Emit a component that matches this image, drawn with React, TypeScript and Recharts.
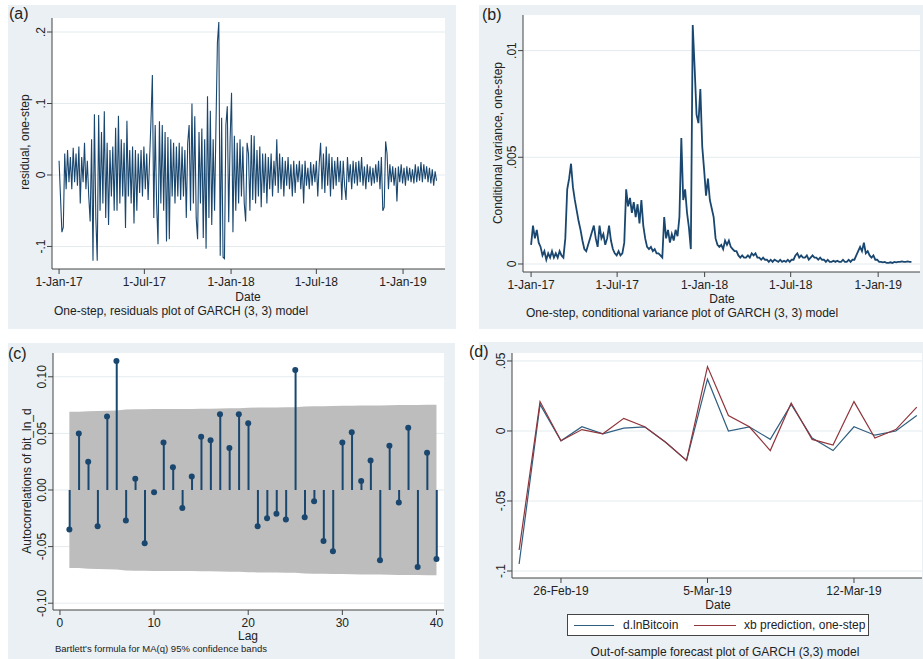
import React from 'react';
import { LineChart, Line, XAxis, YAxis, CartesianGrid, ComposedChart, Area, Bar } from 'recharts';

const FONT = '"Liberation Sans", Arial, sans-serif';
const NAVY = '#1a476f';
const MAROON = '#90353b';
const PANEL_BG = '#eaf0f3';
const GRID = '#e4ebee';
const AXIS = '#444';
const TEXT = '#222';

// x axis of panels (a) and (b): days since 1-Jan-17
const dateTicks = [0, 181, 365, 546, 730];
const dateTickLabels = ['1-Jan-17', '1-Jul-17', '1-Jan-18', '1-Jul-18', '1-Jan-19'];

// (a) one-step residuals, one reading every 3 days
const residualStep = 3;
const residuals = [
  0.02, -0.03, -0.08, -0.073, 0.03, -0.02, 0.035, -0.01, 0.025, -0.02,
  0.038, -0.01, 0.03, -0.015, 0.04, -0.04, 0.025, -0.01, 0.045, -0.02,
  0.02, -0.03, -0.065, 0.05, -0.12, 0.085, -0.06, -0.12, 0.084, -0.05,
  0.06, -0.04, 0.089, -0.06, 0.045, -0.07, 0.035, -0.03, 0.04, -0.05,
  0.066, -0.05, 0.083, -0.04, 0.05, -0.03, 0.045, -0.074, 0.076, -0.03,
  0.035, -0.04, 0.04, -0.068, 0.035, -0.05, 0.03, -0.025, 0.035, -0.03,
  0.04, -0.02, 0.03, -0.035, 0.02, 0.075, 0.14, -0.06, 0.07, -0.04,
  -0.097, 0.075, -0.04, 0.07, -0.05, 0.06, -0.093, 0.053, -0.09, 0.05,
  -0.03, 0.045, -0.04, 0.04, -0.03, 0.045, -0.035, 0.04, -0.03, 0.035,
  -0.06, 0.045, 0.07, -0.05, 0.1, -0.04, 0.082, -0.06, -0.09, 0.06,
  -0.04, 0.065, -0.088, 0.05, -0.103, 0.11, -0.06, 0.09, -0.07, 0.05,
  -0.05, 0.07, 0.185, 0.214, -0.113, 0.08, -0.115, -0.117, 0.07, 0.096,
  -0.066, 0.05, 0.115, -0.08, 0.055, -0.05, 0.045, -0.04, 0.05, -0.03,
  0.04, -0.04, -0.065, 0.045, 0.03, -0.05, 0.056, -0.035, 0.055, -0.04,
  0.035, -0.03, 0.04, -0.045, 0.03, -0.025, 0.03, -0.04, 0.025, -0.02,
  0.03, -0.03, 0.02, -0.015, 0.05, -0.025, 0.03, -0.02, 0.025, -0.03,
  0.02, -0.015, 0.025, -0.02, 0.015, -0.03, 0.02, -0.025, 0.015, -0.01,
  0.02, -0.02, 0.015, -0.04, 0.02, -0.015, 0.01, -0.02, 0.018, -0.015,
  0.015, -0.01, 0.02, -0.03, 0.015, 0.045, -0.02, 0.03, -0.025, 0.04,
  -0.015, 0.03, -0.03, 0.025, -0.02, 0.02, -0.015, 0.025, -0.01, 0.02,
  -0.035, 0.02, -0.015, -0.035, 0.025, -0.01, 0.015, -0.02, 0.02, -0.012,
  0.018, -0.015, 0.02, -0.01, 0.025, -0.015, 0.012, -0.02, 0.015, -0.01,
  0.012, -0.015, 0.01, -0.012, 0.015, -0.01, 0.02, -0.02, 0.025, -0.05,
  -0.045, 0.047, 0.03, -0.02, 0.015, -0.01, 0.012, -0.015, 0.01, -0.037,
  0.012, -0.01, 0.015, -0.012, 0.01, -0.015, 0.012, -0.008, 0.01, -0.01,
  0.008, -0.012, 0.015, -0.01, 0.012, -0.008, 0.018, -0.01, 0.015, -0.006,
  0.012, -0.01, 0.01, -0.012, 0.008, -0.015, 0.005, -0.008,
];
const residualTicks = [-0.1, 0, 0.1, 0.2];
const residualTickLabels = ['-.1', '0', '.1', '.2'];

// (b) one-step conditional variance, one reading every 4 days
const varianceStep = 4;
const variances = [
  0.0009, 0.0018, 0.0012, 0.0016, 0.001, 0.0008, 0.0004, 0.0006, 0.0002, 0.0005,
  0.0003, 0.0006, 0.0003, 0.0005, 0.0003, 0.0006, 0.0004, 0.0003, 0.0012, 0.0035,
  0.004, 0.0047, 0.0036, 0.003, 0.0025, 0.002, 0.0016, 0.0011, 0.0007, 0.0006,
  0.0009, 0.0012, 0.0015, 0.0018, 0.0012, 0.0008, 0.0018, 0.0012, 0.0014, 0.0009,
  0.0012, 0.0018, 0.0011, 0.0007, 0.0005, 0.0004, 0.0006, 0.0004, 0.0005, 0.001,
  0.0035, 0.0027, 0.0031, 0.0024, 0.0029, 0.0022, 0.0028, 0.0019, 0.003, 0.0018,
  0.0012, 0.0008, 0.0007, 0.0008, 0.0006, 0.0007, 0.0005, 0.0005, 0.0004, 0.0003,
  0.0022, 0.0012, 0.0016, 0.001, 0.0014, 0.0011, 0.0016, 0.0013, 0.0022, 0.0059,
  0.003, 0.0035, 0.0024, 0.0017, 0.0007, 0.0112, 0.0092, 0.007, 0.0066, 0.0082,
  0.0055, 0.0044, 0.0032, 0.004, 0.003, 0.0026, 0.0022, 0.0012, 0.0009, 0.0008,
  0.0009, 0.0007, 0.0011, 0.0009, 0.0011, 0.0008, 0.0007, 0.0006, 0.0006, 0.0004,
  0.0003, 0.0004, 0.0003, 0.0003, 0.0004, 0.0003, 0.0005, 0.0004, 0.0005, 0.0003,
  0.0003, 0.0002, 0.0003, 0.0002, 0.0002, 0.0001, 0.0002, 0.0001, 0.0002, 0.00015,
  0.0001, 0.0002, 0.0001, 0.00015, 0.0001, 0.0002, 0.0001, 0.0002, 0.0002, 0.0004,
  0.0005, 0.0003, 0.0004, 0.0003, 0.0003, 0.0004, 0.0002, 0.0003, 0.0004, 0.0003,
  0.0003, 0.0002, 0.0003, 0.0002, 0.0002, 0.0001, 0.0002, 0.0001, 0.0001, 0.00015,
  0.0001, 0.00015, 0.0001, 0.0001, 0.0002, 0.0001, 0.0001, 0.0002, 0.0001, 0.0002,
  0.0002, 0.0004, 0.0006, 0.0008, 0.0006, 0.001, 0.0005, 0.0006, 0.0004, 0.0003,
  0.0004, 0.0002, 0.0002, 0.0001, 0.0001, 0.00008, 0.0001, 0.00005, 0.00005, 0.00008,
  0.00005, 0.0001, 0.00008, 0.0001, 0.0001, 0.00012, 0.0001, 0.0001, 0.00012, 0.0001,
  0.0001,
];
const varianceTicks = [0, 0.005, 0.01];
const varianceTickLabels = ['0', '.005', '.01'];

// (c) autocorrelations with Bartlett 95% band
const acfLags = [
  1, 2, 3, 4, 5, 6, 7, 8, 9, 10, 11, 12, 13, 14, 15, 16, 17, 18, 19, 20,
  21, 22, 23, 24, 25, 26, 27, 28, 29, 30, 31, 32, 33, 34, 35, 36, 37, 38, 39, 40,
];
const acfValues = [
  -0.035, 0.05, 0.025, -0.032, 0.065, 0.114, -0.027, 0.01, -0.047, -0.002,
  0.042, 0.02, -0.016, 0.012, 0.047, 0.044, 0.067, 0.037, 0.067, 0.059,
  -0.032, -0.025, -0.021, -0.026, 0.106, -0.024, -0.01, -0.045, -0.054, 0.042,
  0.051, 0.008, 0.026, -0.062, 0.039, -0.011, 0.055, -0.068, 0.033, -0.061,
];
const acfBand = [
  0.069, 0.069, 0.0695, 0.0697, 0.07, 0.0703, 0.0712, 0.0713, 0.0713, 0.0715,
  0.0715, 0.0716, 0.0716, 0.0716, 0.0717, 0.0718, 0.0719, 0.0722, 0.0723, 0.0726,
  0.0728, 0.0729, 0.0729, 0.073, 0.073, 0.0738, 0.0739, 0.0739, 0.0741, 0.0743,
  0.0744, 0.0746, 0.0746, 0.0746, 0.0749, 0.075, 0.075, 0.0751, 0.0753, 0.0753,
];
const lagTicks = [0, 10, 20, 30, 40];
const acfTicks = [-0.1, -0.05, 0, 0.05, 0.1];
const acfTickLabels = ['-0.10', '-0.05', '0.00', '0.05', '0.10'];

// (d) out-of-sample forecast
const forecastDates = [
  '24-Feb-19', '25-Feb-19', '26-Feb-19', '27-Feb-19', '28-Feb-19', '1-Mar-19', '2-Mar-19',
  '3-Mar-19', '4-Mar-19', '5-Mar-19', '6-Mar-19', '7-Mar-19', '8-Mar-19', '9-Mar-19',
  '10-Mar-19', '11-Mar-19', '12-Mar-19', '13-Mar-19', '14-Mar-19', '15-Mar-19',
];
const actualValues = [
  -0.095, 0.019, -0.007, 0.003, -0.002, 0.002, 0.003, -0.008, -0.021, 0.037,
  0.0, 0.003, -0.006, 0.019, -0.005, -0.014, 0.003, -0.003, 0.0, 0.011,
];
const predictedValues = [
  -0.085, 0.021, -0.007, 0.001, -0.002, 0.009, 0.003, -0.008, -0.021, 0.046,
  0.011, 0.003, -0.014, 0.02, -0.006, -0.01, 0.021, -0.005, 0.001, 0.017,
];
const forecastTickDates = ['26-Feb-19', '5-Mar-19', '12-Mar-19'];
const forecastYTicks = [-0.1, -0.05, 0, 0.05];
const forecastYTickLabels = ['-.1', '-.05', '0', '.05'];

const residualData = residuals.map((v, i) => ({ day: i * residualStep, v }));
const varianceData = variances.map((v, i) => ({ day: i * varianceStep, v }));
const acfData = acfLags.map((lag, i) => ({ lag, acf: acfValues[i], band: [-acfBand[i], acfBand[i]] }));
const forecastData = forecastDates.map((d, i) => ({ idx: i, actual: actualValues[i], pred: predictedValues[i] }));
const forecastTickIdx = forecastTickDates.map((d) => forecastDates.indexOf(d));

const VTick = ({ x, y, payload, ticks, labels }: any) => (
  <text x={x} y={y} transform={`rotate(-90 ${x} ${y})`} textAnchor="middle" fontSize={12} fontFamily={FONT} fill={TEXT}>
    {labels[ticks.indexOf(payload.value)]}
  </text>
);

const xTickStyle = { fontSize: 12, fill: TEXT, fontFamily: FONT };

const Txt = ({ x, y, size = 12, rotate = 0, left = false, children }: any) => (
  <div
    style={{
      position: 'absolute',
      left: x,
      top: y,
      fontSize: size,
      fontFamily: FONT,
      color: TEXT,
      whiteSpace: 'nowrap',
      lineHeight: 1,
      transform: `translate(${left ? '0' : '-50%'}, -50%) rotate(${rotate}deg)`,
    }}
  >
    {children}
  </div>
);

const Panel = ({ x, y, w, h, children }: any) => (
  <div style={{ position: 'absolute', left: x, top: y, width: w, height: h, background: PANEL_BG }}>{children}</div>
);

const yAxisCommon = {
  axisLine: { stroke: AXIS },
  tickLine: { stroke: AXIS },
  tickSize: 5,
  tickMargin: 2,
  allowDataOverflow: true,
};

const xAxisCommon = {
  type: 'number' as const,
  axisLine: { stroke: AXIS },
  tickLine: { stroke: AXIS },
  tickSize: 5,
  tickMargin: 3,
  allowDataOverflow: true,
  height: 30,
  tick: xTickStyle,
};

export default function App() {
  return (
    <div style={{ position: 'absolute', left: 0, top: 0, width: 923, height: 659, background: '#fff', overflow: 'hidden' }}>
      {/* (a) residuals */}
      <Panel x={8} y={5} w={448} h={324}>
        <LineChart width={448} height={324} data={residualData} margin={{ top: 13, right: 11, left: 0, bottom: 30 }}>
          <CartesianGrid fill="#fff" stroke={GRID} vertical={false} horizontalValues={residualTicks} />
          <XAxis
            {...xAxisCommon}
            dataKey="day"
            domain={[-15, 819]}
            ticks={dateTicks}
            tickFormatter={(v: number) => dateTickLabels[dateTicks.indexOf(v)]}
          />
          <YAxis
            {...yAxisCommon}
            width={44}
            domain={[-0.1315, 0.2196]}
            ticks={residualTicks}
            tick={(p: any) => <VTick {...p} ticks={residualTicks} labels={residualTickLabels} />}
          />
          <Line type="linear" dataKey="v" stroke={NAVY} strokeWidth={1.1} dot={false} isAnimationActive={false} />
        </LineChart>
      </Panel>
      <Txt x={9} y={14} size={16} left>(a)</Txt>
      <Txt x={25} y={142} rotate={-90}>residual, one-step</Txt>
      <Txt x={248} y={297}>Date</Txt>
      <Txt x={54} y={311} left>One-step, residuals plot of GARCH (3, 3) model</Txt>

      {/* (b) conditional variance */}
      <Panel x={479} y={5} w={444} h={324}>
        <LineChart width={444} height={324} data={varianceData} margin={{ top: 10, right: 3, left: 0, bottom: 27 }}>
          <CartesianGrid fill="#fff" stroke={GRID} vertical={false} horizontalValues={varianceTicks} />
          <XAxis
            {...xAxisCommon}
            dataKey="day"
            domain={[-17, 818]}
            ticks={dateTicks}
            tickFormatter={(v: number) => dateTickLabels[dateTicks.indexOf(v)]}
          />
          <YAxis
            {...yAxisCommon}
            width={44}
            domain={[-0.000375, 0.011668]}
            ticks={varianceTicks}
            tick={(p: any) => <VTick {...p} ticks={varianceTicks} labels={varianceTickLabels} />}
          />
          <Line type="linear" dataKey="v" stroke={NAVY} strokeWidth={1.8} dot={false} isAnimationActive={false} />
        </LineChart>
      </Panel>
      <Txt x={482} y={15} size={16} left>(b)</Txt>
      <Txt x={498} y={143} rotate={-90}>Conditional variance, one-step</Txt>
      <Txt x={722} y={299}>Date</Txt>
      <Txt x={526} y={313} left>One-step, conditional variance plot of GARCH (3, 3) model</Txt>

      {/* (c) autocorrelations */}
      <Panel x={8} y={343} w={447} h={316}>
        <ComposedChart width={447} height={316} data={acfData} margin={{ top: 10, right: 11, left: 0, bottom: 19 }}>
          <CartesianGrid fill="#fff" stroke={GRID} vertical={false} horizontalValues={acfTicks} />
          <XAxis {...xAxisCommon} dataKey="lag" domain={[-0.74, 40.8]} ticks={lagTicks} />
          <YAxis
            {...yAxisCommon}
            width={45}
            domain={[-0.106, 0.121]}
            ticks={acfTicks}
            tick={(p: any) => <VTick {...p} ticks={acfTicks} labels={acfTickLabels} />}
          />
          <Area type="linear" dataKey="band" fill="#bdbdbd" fillOpacity={1} stroke="none" isAnimationActive={false} />
          <Bar dataKey="acf" fill={NAVY} barSize={2} isAnimationActive={false} />
          <Line
            dataKey="acf"
            stroke="none"
            dot={{ r: 3, fill: NAVY, stroke: NAVY, strokeWidth: 0 }}
            isAnimationActive={false}
          />
        </ComposedChart>
      </Panel>
      <Txt x={8} y={354} size={16} left>(c)</Txt>
      <Txt x={27} y={481} rotate={-90}>Autocorrelations of bit_ln_d</Txt>
      <Txt x={248} y={636}>Lag</Txt>
      <Txt x={55} y={649} size={9.5} left>Bartlett's formula for MA(q) 95% confidence bands</Txt>

      {/* (d) forecast */}
      <Panel x={479} y={342} w={444} h={317}>
        <LineChart width={444} height={317} data={forecastData} margin={{ top: 11, right: 1, left: 0, bottom: 51 }}>
          <CartesianGrid fill="#fff" stroke={GRID} vertical={false} horizontalValues={forecastYTicks} />
          <XAxis
            {...xAxisCommon}
            dataKey="idx"
            domain={[-0.34, 19.25]}
            ticks={forecastTickIdx}
            tickFormatter={(v: number) => forecastDates[v]}
          />
          <YAxis
            {...yAxisCommon}
            width={33}
            domain={[-0.105, 0.0557]}
            ticks={forecastYTicks}
            tick={(p: any) => <VTick {...p} ticks={forecastYTicks} labels={forecastYTickLabels} />}
          />
          <Line type="linear" dataKey="actual" stroke="#2f5f80" strokeWidth={1.2} dot={false} isAnimationActive={false} />
          <Line type="linear" dataKey="pred" stroke={MAROON} strokeWidth={1.2} dot={false} isAnimationActive={false} />
        </LineChart>
      </Panel>
      <Txt x={469} y={352} size={16} left>(d)</Txt>
      <Txt x={718} y={605}>Date</Txt>
      <div
        style={{
          position: 'absolute',
          left: 567,
          top: 614,
          width: 300,
          height: 20,
          background: '#fff',
          border: `1px solid ${AXIS}`,
        }}
      >
        <div style={{ position: 'absolute', left: 6, top: 10, width: 40, borderTop: '1px solid #2f5f80' }} />
        <Txt x={55} y={10} left>d.lnBitcoin</Txt>
        <div style={{ position: 'absolute', left: 126, top: 10, width: 42, borderTop: `1px solid ${MAROON}` }} />
        <Txt x={176} y={10} left>xb prediction, one-step</Txt>
      </div>
      <Txt x={725} y={652}>Out-of-sample forecast plot of GARCH (3,3) model</Txt>
    </div>
  );
}
